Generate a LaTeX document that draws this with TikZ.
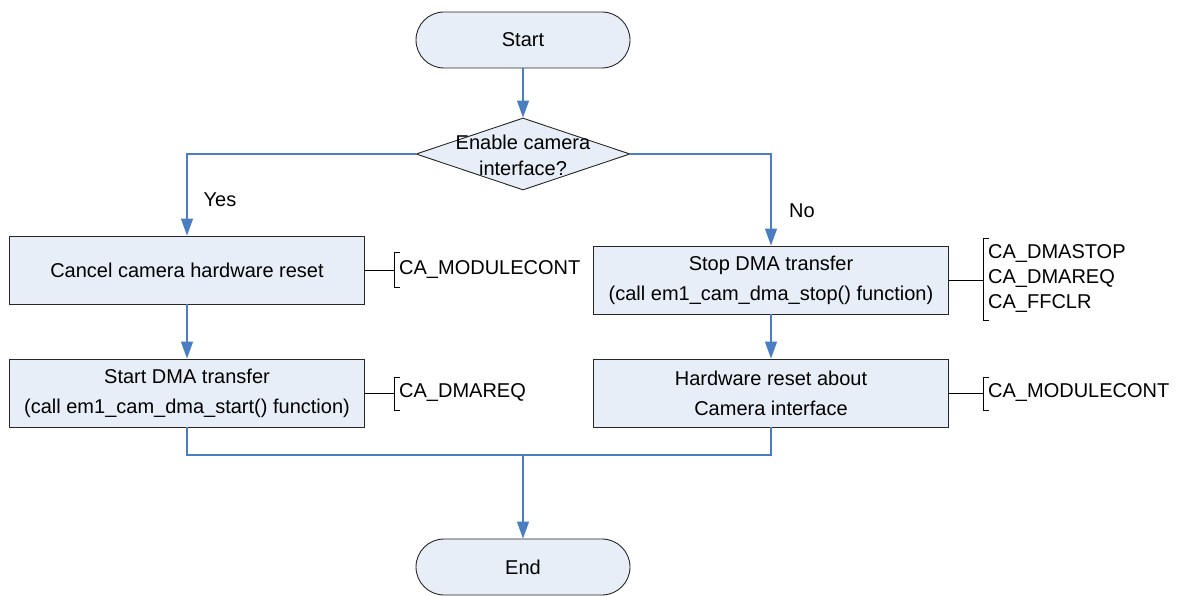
\documentclass[tikz,border=0pt]{standalone}
\usepackage{fontspec}
\setmainfont{Liberation Sans}
\usetikzlibrary{arrows.meta,shapes.geometric}
\definecolor{boxfill}{RGB}{232,238,247}
\definecolor{flow}{RGB}{74,126,193}
\begin{document}
\begin{tikzpicture}[x=1pt,y=-1pt,
  every node/.style={font=\fontsize{20}{30}\selectfont},
  procbox/.style={draw=black!85, fill=boxfill, minimum width=355pt, minimum height=68pt,
    inner sep=0pt, align=center, line width=0.9pt},
  terminal/.style={draw=black!85, fill=boxfill, minimum width=214pt, minimum height=56pt,
    rounded corners=28pt, inner sep=0pt, line width=0.9pt},
  decision/.style={diamond, draw=black!85, fill=boxfill, minimum width=214pt,
    minimum height=72pt, inner sep=0pt, line width=0.9pt},
  flowline/.style={draw=flow, line width=1.2pt},
  flowarrow/.style={flowline, -{Triangle[width=12pt,length=17pt,fill=flow]}},
  regline/.style={draw=black, line width=0.9pt},
  reglabel/.style={anchor=west, inner sep=0pt, align=left,
    font=\fontsize{20}{25}\selectfont},
]
\useasboundingbox (0,0) rectangle (1179,596);

% terminals and decision
\node[terminal] (start) at (523,40) {Start};
\node[decision] (dec) at (523,154) {};
\node[align=center, inner sep=0pt, font=\fontsize{20}{26}\selectfont] (dectext) at (523,155)
  {Enable camera\\interface?};

% process boxes
\node[procbox] (cancel)   at (187,270) {Cancel camera hardware reset};
\node[procbox] (startdma) at (187,393) {Start DMA transfer\\(call em1\_cam\_dma\_start() function)};
\node[procbox] (stopdma)  at (771,280) {Stop DMA transfer\\(call em1\_cam\_dma\_stop() function)};
\node[procbox] (hwreset)  at (771,393) {Hardware reset about\\Camera interface};
\node[terminal] (end) at (523,567) {End};

% flow connectors
\draw[flowarrow] (start) -- (dec);
\draw[flowarrow] (dec.west) -| (cancel.north);
\draw[flowarrow] (dec.east) -| (stopdma.north);
\draw[flowarrow] (cancel) -- (startdma);
\draw[flowarrow] (stopdma) -- (hwreset);
\coordinate (merge) at (523,455);
\draw[flowline] (startdma.south) |- (merge) -| (hwreset.south);
\draw[flowarrow] (merge) -- (end);

\node (yes) at (220,200) {Yes};
\node (no)  at (802,211) {No};

% register annotations
\draw[regline] (cancel.east) -- (394,270);
\draw[regline] (400,252) -- (394,252) -- (394,287) -- (400,287);
\node[reglabel] (reg1) at (399,270) {CA\_MODULECONT};

\draw[regline] (startdma.east) -- (394,393);
\draw[regline] (400,377) -- (394,377) -- (394,410) -- (400,410);
\node[reglabel] (reg2) at (399,393) {CA\_DMAREQ};

\draw[regline] (stopdma.east) -- (983,280);
\draw[regline] (989,238) -- (983,238) -- (983,320) -- (989,320);
\node[reglabel] (reg3) at (988,279) {CA\_DMASTOP\\CA\_DMAREQ\\CA\_FFCLR};

\draw[regline] (hwreset.east) -- (983,393);
\draw[regline] (989,377) -- (983,377) -- (983,410) -- (989,410);
\node[reglabel] (reg4) at (988,393) {CA\_MODULECONT};
\end{tikzpicture}
\end{document}
